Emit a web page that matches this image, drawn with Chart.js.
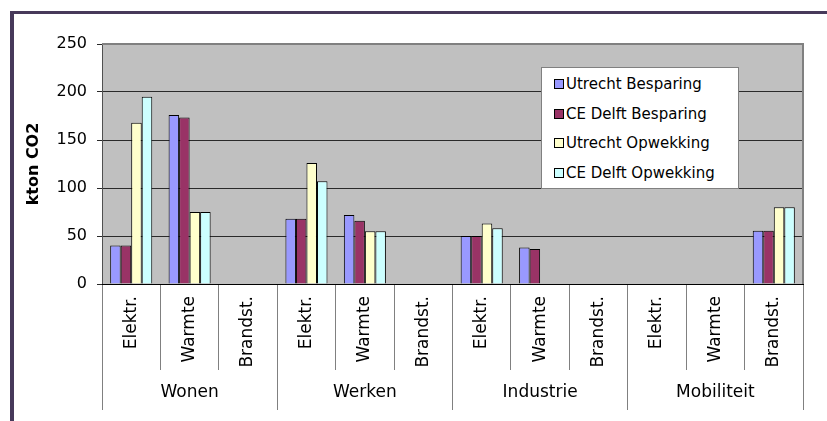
<!DOCTYPE html>
<html>
<head>
<meta charset="utf-8">
<script src="https://cdn.jsdelivr.net/npm/chart.js@4"></script>
<style>
  html, body { margin: 0; padding: 0; background: #fff; }
  #wrap { position: relative; width: 827px; height: 421px; overflow: hidden; }
  #frame {
    position: absolute; left: 10px; top: 11px; right: -10px; bottom: -10px;
    border-top: 3px solid #47395a; border-left: 4px solid #47395a;
  }
  #chart { position: absolute; left: 0; top: 0; }
  #legend {
    position: absolute; left: 541px; top: 67px; width: 196px; height: 120px;
    background: #fff; border: 1px solid #808080;
    font-family: "DejaVu Sans", sans-serif; font-size: 15px; color: #000;
  }
  #legend div { position: absolute; left: 12px; height: 20px; line-height: 20px; white-space: nowrap; }
  #legend span {
    display: inline-block; width: 8px; height: 8px; border: 1px solid #000;
    margin-right: 2px; vertical-align: 0px;
  }
</style>
</head>
<body>
<div id="wrap">
  <div id="frame"></div>
  <canvas id="chart" width="827" height="421"></canvas>
  <div id="legend"></div>
</div>
<script>
  // categories (two levels) and values
  const categories = [
    "Elektr.", "Warmte", "Brandst.",
    "Elektr.", "Warmte", "Brandst.",
    "Elektr.", "Warmte", "Brandst.",
    "Elektr.", "Warmte", "Brandst.",
  ];
  const groups = ["Wonen", "Werken", "Industrie", "Mobiliteit"];
  const yTicks = [0, 50, 100, 150, 200, 250];

  const seriesNames = [
    "Utrecht Besparing",
    "CE Delft Besparing",
    "Utrecht Opwekking",
    "CE Delft Opwekking",
  ];
  const seriesColors = ["#9999ff", "#993366", "#ffffcc", "#ccffff"];

  const utrechtBesparing = [40, 176, null, 68, 72, null, 50, 38, null, null, null, 55.5];
  const ceDelftBesparing = [40, 173.5, null, 68, 66, null, 50, 36.5, null, null, null, 55.5];
  const utrechtOpwekking = [168, 75, null, 126, 55, null, 63, null, null, null, null, 80];
  const ceDelftOpwekking = [195, 75, null, 107, 55, null, 58, null, null, null, null, 80];

  const seriesValues = [utrechtBesparing, ceDelftBesparing, utrechtOpwekking, ceDelftOpwekking];

  // grey plot background and frame
  const plotBg = {
    id: "plotBg",
    beforeDraw(chart) {
      const { ctx, chartArea: a } = chart;
      ctx.save();
      ctx.fillStyle = "#c0c0c0";
      ctx.fillRect(a.left, a.top, a.right - a.left, a.bottom - a.top);
      ctx.restore();
    },
    afterDatasetsDraw(chart) {
      const { ctx, chartArea: a } = chart;
      ctx.save();
      ctx.strokeStyle = "#808080";
      ctx.lineWidth = 2;
      ctx.beginPath();
      ctx.moveTo(a.left, a.top);
      ctx.lineTo(a.right, a.top);
      ctx.lineTo(a.right, a.bottom);
      ctx.stroke();
      ctx.restore();
    },
  };

  const ctx = document.getElementById("chart").getContext("2d");
  new Chart(ctx, {
    type: "bar",
    data: {
      labels: categories,
      datasets: seriesNames.map((name, i) => ({
        label: name,
        data: seriesValues[i],
        backgroundColor: seriesColors[i],
        borderColor: "#000",
        borderWidth: 1,
        borderSkipped: "start",
        barPercentage: 1,
        categoryPercentage: 0.72,
      })),
    },
    options: {
      responsive: false,
      animation: false,
      layout: { padding: { left: 0, right: 24, top: 44, bottom: 11 } },
      plugins: {
        legend: { display: false },
        tooltip: { enabled: false },
      },
      scales: {
        y: {
          min: 0,
          max: 250,
          afterBuildTicks: (scale) => {
            scale.ticks = yTicks.map((v) => ({ value: v }));
          },
          afterFit: (scale) => { scale.width = 102; },
          ticks: {
            color: "#000",
            padding: 10,
            font: { family: "DejaVu Sans", size: 16 },
          },
          grid: { color: "#2a2a2a", tickLength: 5, lineWidth: 1 },
          border: { color: "#505050", width: 1 },
          title: {
            display: true,
            text: "kton CO2",
            color: "#000",
            padding: { top: 24, bottom: 0 },
            font: { family: "DejaVu Sans", size: 16, weight: "bold" },
          },
        },
        x: {
          weight: 0,
          afterFit: (scale) => { scale.height = 86; },
          ticks: {
            color: "#000",
            minRotation: 90,
            maxRotation: 90,
            autoSkip: false,
            padding: -74,
            font: { family: "DejaVu Sans", size: 17 },
          },
          grid: {
            offset: true,
            drawOnChartArea: false,
            tickLength: 86,
            color: "#808080",
          },
          border: { color: "#000", width: 1 },
        },
        x2: {
          type: "category",
          position: "bottom",
          weight: 1,
          labels: groups,
          offset: true,
          afterFit: (scale) => { scale.height = 40; },
          ticks: {
            color: "#000",
            padding: -28,
            font: { family: "DejaVu Sans", size: 17 },
          },
          grid: {
            offset: true,
            drawOnChartArea: false,
            tickLength: 40,
            color: "#808080",
          },
          border: { display: false },
        },
      },
    },
    plugins: [plotBg],
  });

  // legend inside the plot, built from the series arrays
  const legend = document.getElementById("legend");
  seriesNames.forEach((name, i) => {
    const item = document.createElement("div");
    item.style.top = 6 + i * 29.5 + "px";
    const box = document.createElement("span");
    box.style.background = seriesColors[i];
    item.appendChild(box);
    item.appendChild(document.createTextNode(name));
    legend.appendChild(item);
  });
</script>
</body>
</html>
